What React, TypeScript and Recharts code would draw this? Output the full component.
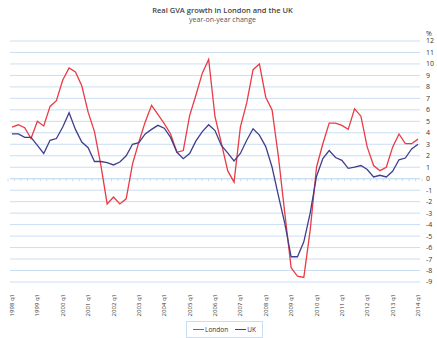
import { LineChart, Line, XAxis, YAxis, CartesianGrid, Legend, ReferenceLine } from 'recharts'

// ==================== || REAL GVA GROWTH - LONDON VS UK ||==================== //

const years = [
    1998, 1999, 2000, 2001, 2002, 2003, 2004, 2005, 2006, 2007, 2008, 2009, 2010, 2011, 2012, 2013, 2014,
]
const quarterNames = ['q1', 'q2', 'q3', 'q4']

// 1998 q1 .. 2014 q1, year-on-year % change
const london = [
    4.5, 4.7, 4.45, 3.5, 5.0, 4.6, 6.3, 6.8, 8.6, 9.65,
    9.3, 8.1, 5.8, 4.1, 1.2, -2.2, -1.6, -2.2, -1.75, 1.3,
    3.2, 4.95, 6.4, 5.6, 4.8, 3.9, 2.3, 2.45, 5.5, 7.3,
    9.2, 10.4, 5.4, 3.1, 0.7, -0.3, 4.5, 6.6, 9.5, 10.0,
    7.1, 6.0, 1.9, -3.0, -7.75, -8.5, -8.6, -4.5, 1.0, 3.05,
    4.85, 4.85, 4.65, 4.3, 6.1, 5.45, 2.75, 1.15, 0.7, 1.0,
    2.75, 3.9, 3.05, 3.05, 3.45,
]
const uk = [
    3.9, 3.9, 3.6, 3.6, 2.9, 2.2, 3.35, 3.5, 4.5, 5.75,
    4.3, 3.2, 2.7, 1.5, 1.5, 1.4, 1.2, 1.45, 2.0, 3.0,
    3.15, 3.9, 4.3, 4.65, 4.4, 3.6, 2.3, 1.75, 2.2, 3.3,
    4.1, 4.7, 4.2, 2.9, 2.25, 1.55, 2.2, 3.35, 4.35, 3.8,
    2.8, 1.0, -1.5, -3.9, -6.8, -6.8, -5.5, -3.0, 0.2, 1.75,
    2.45, 1.85, 1.6, 0.9, 1.0, 1.15, 0.8, 0.15, 0.3, 0.15,
    0.65, 1.65, 1.8, 2.6, 3.0,
]
const yTicks = [-9, -8, -7, -6, -5, -4, -3, -2, -1, 0, 1, 2, 3, 4, 5, 6, 7, 8, 9, 10, 11, 12]

const quarters = years.flatMap((y) => quarterNames.map((q) => `${y} ${q}`)).slice(0, london.length)
const xTicks = years.map((y) => `${y} q1`)

const data = quarters.map((quarter, i) => ({ quarter, London: london[i], UK: uk[i] }))

const GRID = '#cadef2'
const RED = '#ea3b44'
const NAVY = '#3f3f8c'
const FONT = '"Open Sans", "DejaVu Sans", sans-serif'

const XTick = ({ x, y, payload }: any) => (
    <text
        x={x}
        y={y}
        transform={`rotate(-90, ${x}, ${y})`}
        textAnchor="end"
        dy={2}
        fontSize={6}
        fill="#333"
        fontFamily={FONT}
    >
        {payload.value}
    </text>
)

// axis line crossing at zero, with a tick mark per quarter
const ZeroAxis = ({ x1, y1, x2 }: any) => {
    const n = london.length
    const step = (x2 - x1 - 4) / (n - 1)
    return (
        <g>
            <line x1={x1} y1={y1} x2={x2} y2={y1} stroke={GRID} strokeWidth={1} />
            {london.map((_, i) => (
                <line
                    key={i}
                    x1={x1 + 2 + i * step}
                    x2={x1 + 2 + i * step}
                    y1={y1}
                    y2={y1 + 2.5}
                    stroke={GRID}
                    strokeWidth={1}
                />
            ))}
        </g>
    )
}

const LegendBox = () => (
    <div
        style={{
            display: 'flex',
            alignItems: 'center',
            justifyContent: 'center',
            gap: 7,
            height: 17,
            border: `1px solid ${GRID}`,
            boxSizing: 'border-box',
            fontFamily: FONT,
            fontSize: 6.5,
            color: '#333',
            background: '#fff',
        }}
    >
        {[
            { name: 'London', color: RED },
            { name: 'UK', color: NAVY },
        ].map((item) => (
            <span key={item.name} style={{ display: 'flex', alignItems: 'center' }}>
                <span style={{ display: 'inline-block', width: 11, height: 1.3, background: item.color, marginRight: 1 }} />
                {item.name}
            </span>
        ))}
    </div>
)

const App = () => {
    return (
        <div style={{ position: 'absolute', left: 0, top: 0, width: 437, height: 338, background: '#fff' }}>
            <div
                style={{
                    position: 'absolute',
                    top: 6,
                    width: 437,
                    left: 4,
                    textAlign: 'center',
                    fontFamily: FONT,
                    fontSize: 7.5,
                    fontWeight: 600,
                    color: '#444',
                    lineHeight: '9px',
                }}
            >
                Real GVA growth in London and the UK
            </div>
            <div
                style={{
                    position: 'absolute',
                    top: 15,
                    width: 437,
                    left: 4,
                    textAlign: 'center',
                    fontFamily: FONT,
                    fontSize: 7,
                    color: '#555',
                    lineHeight: '9px',
                }}
            >
                year-on-year change
            </div>
            <div
                style={{ position: 'absolute', top: 29, left: 426, fontFamily: FONT, fontSize: 7, color: '#333', lineHeight: '9px' }}
            >
                %
            </div>
            <LineChart width={437} height={338} data={data} margin={{ top: 41, right: 0, left: 10, bottom: 20 }}>
                <CartesianGrid vertical={false} stroke={GRID} strokeWidth={1} />
                <XAxis
                    dataKey="quarter"
                    ticks={xTicks}
                    interval={0}
                    height={36}
                    padding={{ left: 2, right: 2 }}
                    axisLine={false}
                    tickLine={false}
                    tick={<XTick />}
                    tickMargin={6}
                />
                <YAxis
                    orientation="right"
                    width={17}
                    domain={[-9, 12]}
                    ticks={yTicks}
                    interval={0}
                    axisLine={false}
                    tickLine={false}
                    tickSize={0}
                    tickMargin={6}
                    tick={{ fontSize: 7, fill: '#333', fontFamily: FONT }}
                />
                <ReferenceLine y={0} shape={<ZeroAxis />} />
                <Line
                    type="linear"
                    dataKey="London"
                    stroke={RED}
                    strokeWidth={1.3}
                    dot={false}
                    isAnimationActive={false}
                />
                <Line
                    type="linear"
                    dataKey="UK"
                    stroke={NAVY}
                    strokeWidth={1.3}
                    dot={false}
                    isAnimationActive={false}
                />
                <Legend
                    layout="horizontal"
                    verticalAlign="middle"
                    align="center"
                    content={<LegendBox />}
                    wrapperStyle={{ left: 186, top: 321, width: 77, height: 17 }}
                />
            </LineChart>
        </div>
    )
}

export default App
